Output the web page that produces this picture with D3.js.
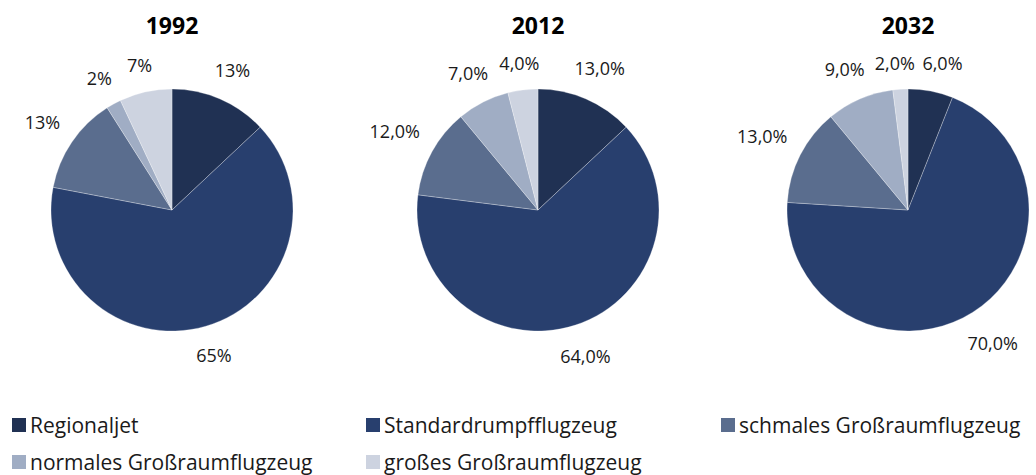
<!DOCTYPE html>
<html>
<head>
<meta charset="utf-8">
<script src="https://cdn.jsdelivr.net/npm/d3@7"></script>
<style>
  body { margin: 0; background: #fff; }
  svg { font-family: "Open Sans", sans-serif; }
</style>
</head>
<body>
<div id="chart"></div>
<script>
// data
var categories = ["Regionaljet", "Standardrumpfflugzeug", "schmales Großraumflugzeug", "normales Großraumflugzeug", "großes Großraumflugzeug"]
var years = ["1992", "2012", "2032"]
var values1992 = [13, 65, 13, 2, 7]
var values2012 = [13, 64, 12, 7, 4]
var values2032 = [6, 70, 13, 9, 2]
var labels1992 = ["13%", "65%", "13%", "2%", "7%"]
var labels2012 = ["13,0%", "64,0%", "12,0%", "7,0%", "4,0%"]
var labels2032 = ["6,0%", "70,0%", "13,0%", "9,0%", "2,0%"]
var colors = ["#203153", "#283f6e", "#5a6d8e", "#a0adc4", "#cdd3e0"]

var width = 1036, height = 475
var radius = 121
var centersX = [172, 538, 908]
var centerY = 210

var svg = d3.select("#chart")
  .append("svg")
    .attr("width", width)
    .attr("height", height)

var color = d3.scaleOrdinal().domain(categories).range(colors)

var pie = d3.pie()
  .sort(null)
  .value(function(d) { return d.value })

var arc = d3.arc().innerRadius(0).outerRadius(radius)

var allValues = [values1992, values2012, values2032]
var allLabels = [labels1992, labels2012, labels2032]

years.forEach(function(year, i) {
  var g = svg.append("g")
    .attr("transform", "translate(" + centersX[i] + "," + centerY + ")")

  var rows = categories.map(function(c, j) {
    return { key: c, value: allValues[i][j], label: allLabels[i][j] }
  })
  var arcs = pie(rows)

  g.selectAll("path")
    .data(arcs)
    .enter()
    .append("path")
      .attr("d", arc)
      .attr("fill", function(d) { return color(d.data.key) })
      .attr("stroke", "#ffffff")
      .attr("stroke-opacity", 0.35)
      .attr("stroke-width", 0.8)

  // title
  svg.append("text")
    .attr("x", centersX[i])
    .attr("y", 25)
    .attr("text-anchor", "middle")
    .attr("dominant-baseline", "central")
    .style("font-size", "23px")
    .style("font-weight", "bold")
    .style("fill", "#000")
    .text(year)

  // labels outside, pushed so the box clears the pie edge
  var boxes = []
  g.selectAll("text.lbl")
    .data(arcs)
    .enter()
    .append("text")
      .attr("class", "lbl")
      .attr("text-anchor", "middle")
      .attr("dominant-baseline", "central")
      .style("font-size", "18px")
      .style("fill", "#1a1a1a")
      .text(function(d) { return d.data.label })
      .each(function(d) {
        var w = this.getComputedTextLength()
        var h = 18
        var a = (d.startAngle + d.endAngle) / 2
        var sx = Math.sin(a), sy = -Math.cos(a)
        var dist = radius + 16 + Math.abs(sx) * w / 2 + Math.abs(sy) * h / 2
        boxes.push({ node: this, x: sx * dist, y: sy * dist, w: w, h: h })
      })

  // push apart labels that collide
  for (var k = 0; k < boxes.length; k++) {
    for (var m = k + 1; m < boxes.length; m++) {
      var A = boxes[k], B = boxes[m]
      var overlapX = (A.w + B.w) / 2 + 10 - Math.abs(A.x - B.x)
      var overlapY = (A.h + B.h) / 2 - Math.abs(A.y - B.y)
      if (overlapX > 0 && overlapY > 0) {
        var dir = A.x < B.x ? -1 : 1
        A.x += dir * overlapX / 2
        B.x -= dir * overlapX / 2
      }
    }
  }
  boxes.forEach(function(b) {
    d3.select(b.node).attr("x", b.x).attr("y", b.y)
  })
})

// legend
var legendX = [12, 366, 721]
var legendY = [425, 462]
var legend = svg.selectAll("g.legend")
  .data(categories)
  .enter()
  .append("g")
    .attr("class", "legend")
    .attr("transform", function(d, i) {
      return "translate(" + legendX[i % 3] + "," + legendY[Math.floor(i / 3)] + ")"
    })

legend.append("rect")
  .attr("x", 0)
  .attr("y", -7)
  .attr("width", 14)
  .attr("height", 14)
  .attr("fill", function(d) { return color(d) })

legend.append("text")
  .attr("x", 18)
  .attr("y", 0)
  .attr("dominant-baseline", "central")
  .style("font-size", "21px")
  .style("fill", "#1a1a1a")
  .text(function(d) { return d })
</script>
</body>
</html>
